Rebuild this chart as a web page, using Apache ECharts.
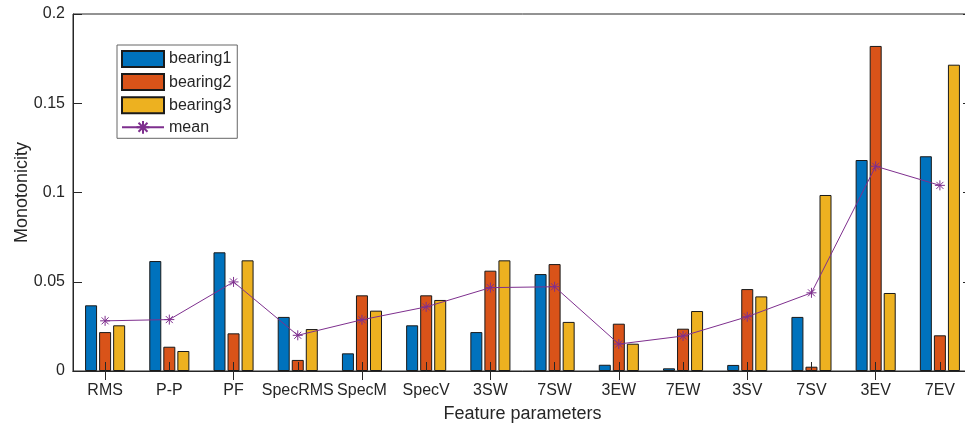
<!DOCTYPE html>
<html>
<head>
<meta charset="utf-8">
<script src="https://cdn.jsdelivr.net/npm/echarts@6/dist/echarts.min.js"></script>
<style>
  html, body { margin: 0; padding: 0; background: #fff; overflow: hidden; width: 965px; height: 423px; }
  /* the plot box runs slightly past the right edge of the window */
  #chart { width: 972px; height: 423px; }
</style>
</head>
<body>
<div id="chart"></div>
<script>
// Feature names on the x axis
const categories = ['RMS', 'P-P', 'PF', 'SpecRMS', 'SpecM', 'SpecV', '3SW', '7SW', '3EW', '7EW', '3SV', '7SV', '3EV', '7EV'];

// Monotonicity of each feature per bearing
const bearing1 = [0.0368, 0.0616, 0.0665, 0.0303, 0.0099, 0.0256, 0.0218, 0.0543, 0.0035, 0.0015, 0.0034, 0.0303, 0.1182, 0.1203];
const bearing2 = [0.0218, 0.0136, 0.0211, 0.0062, 0.0424, 0.0424, 0.0562, 0.0599, 0.0265, 0.0237, 0.0459, 0.0024, 0.1821, 0.0200];
const bearing3 = [0.0256, 0.0112, 0.0620, 0.0235, 0.0338, 0.0398, 0.0620, 0.0275, 0.0153, 0.0336, 0.0418, 0.0986, 0.0437, 0.1716];
const meanValues = [0.0281, 0.0288, 0.0499, 0.0200, 0.0287, 0.0359, 0.0467, 0.0472, 0.0151, 0.0196, 0.0304, 0.0438, 0.1147, 0.1040];

const yTicks = { min: 0, max: 0.2, interval: 0.05 };

const axisColor = '#262626';
const font = '"Liberation Sans", Arial, Helvetica, sans-serif';
// asterisk marker: plus and cross strokes
const asterisk = 'path://M0,-5L0,5M-5,0L5,0M-3.5,-3.5L3.5,3.5M-3.5,3.5L3.5,-3.5';

function barSeries(name, data, color) {
  return {
    name: name,
    type: 'bar',
    data: data,
    xAxisIndex: 0,
    yAxisIndex: 0,
    barWidth: 12,
    barGap: '17%',
    itemStyle: { color: color, borderColor: '#1a1a1a', borderWidth: 1 },
    emphasis: { disabled: true }
  };
}

const chart = echarts.init(document.getElementById('chart'), null, { renderer: 'canvas' });

chart.setOption({
  animation: false,
  backgroundColor: '#ffffff',
  textStyle: { fontFamily: font },
  grid: {
    left: 73, top: 14, right: 0, bottom: 52,
    containLabel: false,
    outerBoundsMode: 'none',
    show: true, borderColor: axisColor, borderWidth: 1, backgroundColor: 'transparent'
  },
  legend: {
    orient: 'vertical',
    left: 117, top: 45,
    itemWidth: 42, itemHeight: 16, itemGap: 5.1,
    padding: [5, 6, 3, 4],
    borderColor: '#666', borderWidth: 1, backgroundColor: '#fff',
    textStyle: { fontFamily: font, fontSize: 16, color: axisColor },
    data: [
      { name: 'bearing1', icon: 'rect' },
      { name: 'bearing2', icon: 'rect' },
      { name: 'bearing3', icon: 'rect' },
      { name: 'mean' }
    ]
  },
  xAxis: [{
    type: 'category',
    data: categories,
    position: 'bottom',
    z: 3,
    name: 'Feature parameters',
    nameLocation: 'middle',
    nameGap: 34,
    nameMoveOverlap: false,
    nameTextStyle: { fontFamily: font, fontSize: 18, color: axisColor },
    axisLine: { show: true, lineStyle: { color: axisColor, width: 1 } },
    axisTick: { show: true, inside: true, alignWithLabel: true, length: 9, lineStyle: { color: axisColor } },
    axisLabel: { fontFamily: font, fontSize: 16, color: axisColor, margin: 12, interval: 0 },
    splitLine: { show: false }
  }, {
    type: 'category',
    data: categories,
    position: 'top',
    z: 3,
    axisLine: { show: true, lineStyle: { color: axisColor, width: 1 } },
    axisTick: { show: true, inside: true, alignWithLabel: true, length: 9, lineStyle: { color: axisColor } },
    axisLabel: { show: false },
    splitLine: { show: false }
  }],
  yAxis: [{
    type: 'value',
    min: yTicks.min, max: yTicks.max, interval: yTicks.interval,
    z: 3,
    name: 'Monotonicity',
    nameLocation: 'middle',
    nameGap: 42,
    nameMoveOverlap: false,
    nameTextStyle: { fontFamily: font, fontSize: 18, color: axisColor },
    axisLine: { show: true, lineStyle: { color: axisColor, width: 1 } },
    axisTick: { show: true, inside: true, length: 9, lineStyle: { color: axisColor } },
    axisLabel: { fontFamily: font, fontSize: 16, color: axisColor, margin: 8, formatter: v => String(+v.toFixed(2)) },
    splitLine: { show: false }
  }, {
    type: 'value',
    position: 'right',
    min: yTicks.min, max: yTicks.max, interval: yTicks.interval,
    z: 3,
    axisLine: { show: true, lineStyle: { color: axisColor, width: 1 } },
    axisTick: { show: true, inside: true, length: 9, lineStyle: { color: axisColor } },
    axisLabel: { show: false },
    splitLine: { show: false }
  }],
  series: [
    barSeries('bearing1', bearing1, '#0072BD'),
    barSeries('bearing2', bearing2, '#D95319'),
    barSeries('bearing3', bearing3, '#EDB120'),
    {
      name: 'mean',
      type: 'line',
      data: meanValues,
      xAxisIndex: 0,
      yAxisIndex: 0,
      z: 5,
      symbol: asterisk,
      symbolSize: 10,
      showAllSymbol: true,
      lineStyle: { color: '#7E2F8E', width: 1 },
      itemStyle: { color: '#7E2F8E', borderColor: '#7E2F8E', borderWidth: 1 },
      emphasis: { disabled: true }
    }
  ]
});
</script>
</body>
</html>
